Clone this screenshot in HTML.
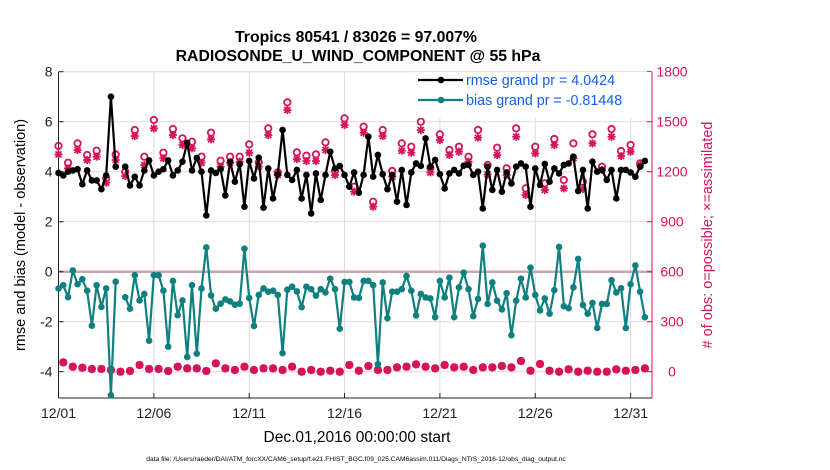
<!DOCTYPE html>
<html><head><meta charset="utf-8"><style>
body{margin:0;background:#fff;width:830px;height:470px;overflow:hidden}
svg{display:block;font-family:"Liberation Sans",sans-serif}
</style></head><body>
<svg id="c" width="830" height="470">
<text x="356" y="42" text-anchor="middle" font-size="15.8" font-weight="bold">Tropics 80541 / 83026 = 97.007%</text>
<text x="358" y="61" text-anchor="middle" font-size="15.8" font-weight="bold">RADIOSONDE_U_WIND_COMPONENT @ 55 hPa</text>
<text x="357" y="442" text-anchor="middle" font-size="15.5">Dec.01,2016 00:00:00 start</text>
<text x="356" y="461" text-anchor="middle" font-size="6.7">data file: /Users/raeder/DAI/ATM_forcXX/CAM6_setup/f.e21.FHIST_BGC.f09_025.CAM6assim.011/Diags_NTrS_2016-12/obs_diag_output.nc</text>
<text transform="translate(25,235) rotate(-90)" text-anchor="middle" font-size="14.5">rmse and bias (model - observation)</text>
<text transform="translate(712,235) rotate(-90)" text-anchor="middle" font-size="14.5" fill="#d6135a"># of obs: o=possible; ×=assimilated</text>
</svg>
<script>
const days=[1,6,11,16,21,26,31];
const dayLabels=["12/01","12/06","12/11","12/16","12/21","12/26","12/31"];
const leftTicks=[8,6,4,2,0,-2,-4];
const rightTicks=[1800,1500,1200,900,600,300,0];
const rmse=[3.95,3.85,4.0,4.05,4.1,3.5,4.05,3.65,3.65,3.3,3.85,7.0,4.2,null,4.2,3.45,3.8,3.45,4.05,4.45,3.85,4.0,4.1,4.45,3.85,4.05,4.4,5.15,4.05,4.55,4.0,2.25,4.05,3.95,4.1,3.05,4.4,3.6,4.3,2.6,
4.43,3.73,4.56,2.56,4.13,2.93,3.9,5.67,3.87,3.67,4.07,2.93,3.87,2.33,3.93,2.87,3.87,4.8,4.13,4.23,3.87,3.4,3.97,3.16,3.87,5.4,3.8,4.67,3.9,3.3,3.87,2.8,4.07,2.67,3.97,4.33,4.23,5.33,4.2,4.47,3.9,3.33,
3.93,4.07,3.93,4.24,4.27,3.87,4.0,2.53,4.2,3.27,4.07,3.2,3.97,3.53,4.2,4.33,4.2,2.6,4.13,3.47,4.31,3.6,4.13,3.93,4.27,4.33,4.6,3.23,4.07,2.53,4.4,4.0,4.07,3.67,4.07,2.93,4.07,4.07,3.97,3.8,4.2,4.43];
const bias=[-0.67,-0.54,-1.02,0.05,-0.5,-0.3,-0.76,-2.16,-0.54,-1.41,-0.67,-4.94,-0.4,null,-1.02,-1.48,-0.14,-1.15,-0.89,-2.76,-0.14,-0.14,-0.76,-3.0,-0.37,-1.74,-1.15,-3.41,-0.54,-3.28,-0.67,0.97,-0.95,-1.48,-1.28,-1.11,-1.19,-1.32,-1.28,0.92,
-1.05,-2.17,-0.93,-0.67,-0.8,-0.76,-0.93,-3.26,-0.72,-0.6,-0.79,-1.42,-0.6,-0.7,-0.96,-0.7,-0.83,-0.28,-0.7,-2.28,-0.41,-0.41,-1.03,-1.05,-0.37,-0.37,-0.54,-3.7,-0.43,-1.86,-0.8,-0.8,-0.7,-0.17,-0.76,-1.75,-0.89,-1.03,-1.07,-1.82,-0.37,-1.03,
-0.24,-1.82,-0.63,-0.04,-0.7,-1.78,-1.09,1.04,-1.29,-0.43,-1.16,-1.51,-0.86,-2.54,-1.16,-0.28,-1.03,0.16,-0.93,-1.55,-1.07,-1.68,-0.74,0.99,-1.38,-1.46,-0.63,0.51,-1.33,-1.68,-1.25,-2.25,-1.29,-1.29,-0.34,-0.83,-0.66,-2.25,-0.5,0.25,-0.8,-1.82];
const possibleHigh=[1354,1254,1370,1300,1326,1160,1304,1200,1450,1290,1510,1314,1456,1400,1380,1290,1434,1266,1290,1290,1364,1256,1460,1196,1616,1316,1296,1304,1376,1204,1520,1110,1470,1020,1450,1204,1370,1350,1500,1224,1424,1330,1350,1290,1450,1240,1344,1220,1460,1100,1350,1130,1396,1150,1370,1140,1424,1230,1456,1324,1360,1250];
const assimHigh=[1304,1220,1330,1270,1290,1134,1270,1174,1414,1240,1460,1280,1420,1360,1340,1254,1394,1230,1254,1260,1314,1230,1420,1180,1570,1276,1264,1264,1330,1180,1480,1080,1434,990,1414,1170,1326,1314,1450,1196,1390,1300,1320,1260,1404,1184,1300,1180,1410,1060,1310,1090,1360,1100,1280,1096,1370,1210,1410,1294,1320,1240];
const obsLow=[56,30,24,16,16,10,0,4,40,16,16,4,30,20,20,4,50,20,10,30,10,20,20,10,30,0,10,0,6,0,40,6,34,10,10,26,30,44,30,20,40,26,30,10,26,26,34,26,64,6,46,6,0,14,0,6,0,0,14,6,10,20];
const NS="http://www.w3.org/2000/svg";
const svg=document.getElementById('c');
const X0=58.5,X1=652,Y0=72,Y1=398;
const xs=d=>X0+(d-1)*19.07;
const yL=v=>271.7-v*25;
const yR=n=>yL(n/150-4);
function mk(t,a,p){const e=document.createElementNS(NS,t);for(const k in a)e.setAttribute(k,a[k]);(p||svg).appendChild(e);return e;}
const g=mk('g',{});


days.forEach(d=>{const l=mk('line',{x1:xs(d),x2:xs(d),y1:Y0,y2:Y1,stroke:'#dcdcdc','stroke-width':1},g);

});
leftTicks.forEach(v=>{if(v===0)return;const l=mk('line',{x1:X0,x2:X1,y1:yL(v),y2:yL(v),stroke:'#f0d0dc','stroke-width':1},g);

});
const zl=mk('line',{x1:X0,x2:X1,y1:yL(0),y2:yL(0),stroke:'#c9a6b0','stroke-width':2.5});


const ax=mk('g',{});


mk('line',{x1:X0,x2:X0,y1:Y0,y2:Y1,stroke:'#222'},ax);
mk('line',{x1:X0,x2:X1,y1:Y1,y2:Y1,stroke:'#222'},ax);
mk('line',{x1:X1,x2:X1,y1:Y0,y2:Y1,stroke:'#d6135a'},ax);
days.forEach((d,i)=>{mk('line',{x1:xs(d),x2:xs(d),y1:Y1,y2:Y1-5,stroke:'#222'},ax);
const t=mk('text',{x:xs(d),y:418,'text-anchor':'middle','font-size':14,fill:'#222'},ax);t.textContent=dayLabels[i];

});
leftTicks.forEach(v=>{mk('line',{x1:X0,x2:X0+5,y1:yL(v),y2:yL(v),stroke:'#222'},ax);
const t=mk('text',{x:X0-6,y:yL(v)+5,'text-anchor':'end','font-size':14,fill:'#222'},ax);t.textContent=v;

});
rightTicks.forEach(v=>{mk('line',{x1:X1,x2:X1-5,y1:yR(v),y2:yR(v),stroke:'#d6135a'},ax);
const t=mk('text',{x:X1+20,y:yR(v)+5,'text-anchor':'middle','font-size':14,fill:'#d6135a'},ax);t.textContent=v;

});
function star(x,y,p){const s=mk('g',{stroke:'#d6135a','stroke-width':1.8},p);
mk('line',{x1:x-4,x2:x+4,y1:y,y2:y},s);mk('line',{x1:x,x2:x,y1:y-4,y2:y+4},s);
mk('line',{x1:x-3,x2:x+3,y1:y-3,y2:y+3},s);mk('line',{x1:x-3,x2:x+3,y1:y+3,y2:y-3},s);
mk('circle',{cx:x,cy:y,r:2.2,fill:'#d6135a',stroke:'none'},s);return s;}
const og=mk('g',{});


possibleHigh.forEach((v,k)=>{const d=1+(2*k)/4;
const c=mk('circle',{cx:xs(d),cy:yR(v),r:3.2,fill:'none',stroke:'#d6135a','stroke-width':1.8},og);


const s=star(xs(d),yR(assimHigh[k]),og);

});
obsLow.forEach((v,k)=>{const d=1+(2*k+1)/4;
const c=mk('circle',{cx:xs(d),cy:yR(v),r:3.2,fill:'none',stroke:'#d6135a','stroke-width':1.8},og);


const s=star(xs(d),yR(v),og);

});
function series(arr,col,name){const sg=mk('g',{});


let d='',pen=false;arr.forEach((v,i)=>{if(v===null){pen=false;return;}const x=xs(1+i/4),y=yL(v);d+=(pen?'L':'M')+x.toFixed(1)+' '+y.toFixed(1);pen=true;});
mk('path',{d:d,fill:'none',stroke:col,'stroke-width':2.2,'stroke-linejoin':'round'},sg);
arr.forEach((v,i)=>{if(v===null)return;const c=mk('circle',{cx:xs(1+i/4),cy:yL(v),r:3.3,fill:col},sg);

});}
series(bias,'#0f7f7f','bias-series');
series(rmse,'#000','rmse-series');
const lg=mk('g',{});


mk('rect',{x:414,y:72,width:237,height:46,fill:'#fff'},lg);
[['#000','rmse grand pr = 4.0424',85],['#0f7f7f','bias grand pr = -0.81448',105]].forEach(r=>{
mk('line',{x1:418,x2:463,y1:r[2]-5,y2:r[2]-5,stroke:r[0],'stroke-width':2.2},lg);
mk('circle',{cx:441,cy:r[2]-5,r:3.3,fill:r[0]},lg);
const t=mk('text',{x:466,y:r[2],'font-size':14.3,fill:'#1560f0'},lg);t.textContent=r[1];

});
</script>
</body></html>
